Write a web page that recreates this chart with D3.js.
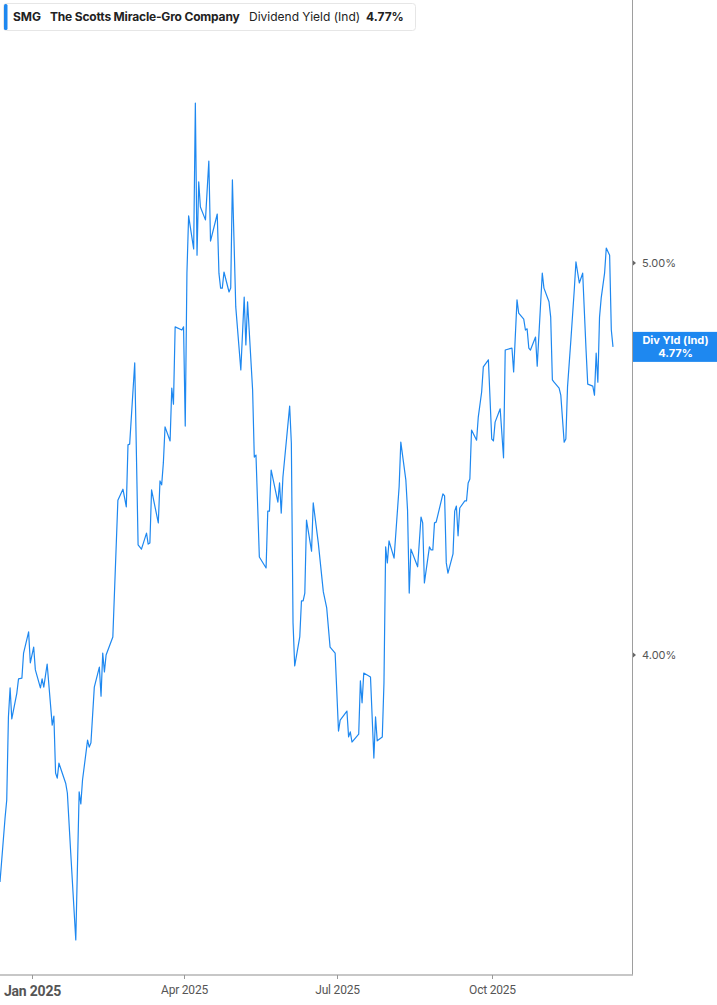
<!DOCTYPE html>
<html>
<head>
  <meta charset="utf-8">
  <title>SMG Dividend Yield</title>
  <script src="https://d3js.org/d3.v7.min.js"></script>
  <style>
    body {
      margin: 0;
      background: #fff;
      font-family: Inter, 'Noto Sans', sans-serif;
    }
    svg {
      display: block;
    }
  </style>
</head>
<body>
<svg width="717" height="1005"></svg>
<script>
  const ticker = 'SMG';
  const company = 'The Scotts Miracle-Gro Company';
  const metric = 'Dividend Yield (Ind)';
  const lastLabel = 'Div Yld (Ind)';
  const currentYield = 4.77;

  // date, yield (%)
  const yieldSeries = [
    ['2024-12-13', 3.421], ['2024-12-16', 3.584], ['2024-12-17', 3.630], ['2024-12-18', 3.842],
    ['2024-12-19', 3.916], ['2024-12-20', 3.837], ['2024-12-23', 3.903], ['2024-12-24', 3.939],
    ['2024-12-26', 3.941], ['2024-12-27', 4.005], ['2024-12-30', 4.059], ['2024-12-31', 3.980],
    ['2025-01-02', 4.020], ['2025-01-03', 3.962], ['2025-01-06', 3.916], ['2025-01-07', 3.939],
    ['2025-01-08', 3.918], ['2025-01-10', 3.977], ['2025-01-13', 3.821], ['2025-01-14', 3.844],
    ['2025-01-15', 3.699], ['2025-01-16', 3.686], ['2025-01-17', 3.724], ['2025-01-21', 3.673],
    ['2025-01-22', 3.648], ['2025-01-24', 3.495], ['2025-01-27', 3.273], ['2025-01-29', 3.651],
    ['2025-01-30', 3.620], ['2025-01-31', 3.681], ['2025-02-03', 3.783], ['2025-02-04', 3.765],
    ['2025-02-05', 3.776], ['2025-02-07', 3.918], ['2025-02-10', 3.969], ['2025-02-11', 3.895],
    ['2025-02-12', 4.005], ['2025-02-13', 3.957], ['2025-02-14', 4.000], ['2025-02-18', 4.046],
    ['2025-02-21', 4.395], ['2025-02-24', 4.423], ['2025-02-26', 4.378], ['2025-02-27', 4.536],
    ['2025-02-28', 4.538], ['2025-03-03', 4.745], ['2025-03-05', 4.281], ['2025-03-07', 4.270],
    ['2025-03-10', 4.311], ['2025-03-11', 4.283], ['2025-03-12', 4.286], ['2025-03-13', 4.421],
    ['2025-03-17', 4.337], ['2025-03-18', 4.444], ['2025-03-19', 4.434], ['2025-03-20', 4.490],
    ['2025-03-21', 4.582], ['2025-03-24', 4.546], ['2025-03-25', 4.681], ['2025-03-26', 4.640],
    ['2025-03-27', 4.837], ['2025-03-31', 4.829], ['2025-04-01', 4.837], ['2025-04-02', 4.584],
    ['2025-04-03', 4.974], ['2025-04-04', 5.120], ['2025-04-07', 5.036], ['2025-04-08', 5.408],
    ['2025-04-09', 5.020], ['2025-04-10', 5.207], ['2025-04-11', 5.143], ['2025-04-14', 5.110],
    ['2025-04-16', 5.260], ['2025-04-17', 5.056], ['2025-04-21', 5.125], ['2025-04-22', 4.974],
    ['2025-04-23', 4.936], ['2025-04-24', 4.936], ['2025-04-25', 4.977], ['2025-04-28', 4.926],
    ['2025-04-29', 4.936], ['2025-04-30', 5.212], ['2025-05-02', 4.888], ['2025-05-05', 4.727],
    ['2025-05-07', 4.913], ['2025-05-08', 4.791], ['2025-05-09', 4.901], ['2025-05-12', 4.676],
    ['2025-05-13', 4.505], ['2025-05-14', 4.510], ['2025-05-16', 4.250], ['2025-05-20', 4.222],
    ['2025-05-21', 4.367], ['2025-05-22', 4.367], ['2025-05-23', 4.472], ['2025-05-27', 4.390],
    ['2025-05-28', 4.439], ['2025-05-29', 4.362], ['2025-05-30', 4.454], ['2025-06-03', 4.635],
    ['2025-06-04', 4.541], ['2025-06-05', 4.082], ['2025-06-06', 3.972], ['2025-06-09', 4.046],
    ['2025-06-10', 4.138], ['2025-06-11', 4.138], ['2025-06-12', 4.158], ['2025-06-13', 4.344],
    ['2025-06-16', 4.265], ['2025-06-17', 4.388], ['2025-06-20', 4.286], ['2025-06-23', 4.161],
    ['2025-06-25', 4.120], ['2025-06-27', 4.020], ['2025-06-30', 4.005], ['2025-07-02', 3.806],
    ['2025-07-03', 3.834], ['2025-07-07', 3.857], ['2025-07-08', 3.791], ['2025-07-09', 3.804],
    ['2025-07-10', 3.778], ['2025-07-14', 3.798], ['2025-07-15', 3.934], ['2025-07-16', 3.878],
    ['2025-07-17', 3.954], ['2025-07-21', 3.944], ['2025-07-23', 3.737], ['2025-07-24', 3.842],
    ['2025-07-25', 3.781], ['2025-07-28', 3.791], ['2025-07-29', 3.929], ['2025-07-30', 4.276],
    ['2025-07-31', 4.235], ['2025-08-01', 4.291], ['2025-08-04', 4.247], ['2025-08-07', 4.429],
    ['2025-08-08', 4.543], ['2025-08-11', 4.446], ['2025-08-12', 4.370], ['2025-08-13', 4.158],
    ['2025-08-14', 4.270], ['2025-08-18', 4.225], ['2025-08-20', 4.352], ['2025-08-21', 4.337],
    ['2025-08-22', 4.184], ['2025-08-25', 4.276], ['2025-08-26', 4.268], ['2025-08-27', 4.268],
    ['2025-08-28', 4.337], ['2025-08-29', 4.339], ['2025-09-02', 4.411], ['2025-09-03', 4.406],
    ['2025-09-04', 4.235], ['2025-09-05', 4.209], ['2025-09-08', 4.258], ['2025-09-09', 4.367],
    ['2025-09-10', 4.380], ['2025-09-11', 4.304], ['2025-09-12', 4.375], ['2025-09-15', 4.393],
    ['2025-09-16', 4.393], ['2025-09-17', 4.439], ['2025-09-18', 4.449], ['2025-09-19', 4.574],
    ['2025-09-22', 4.548], ['2025-09-23', 4.607], ['2025-09-25', 4.671], ['2025-09-26', 4.735],
    ['2025-09-29', 4.753], ['2025-10-01', 4.551], ['2025-10-02', 4.546], ['2025-10-03', 4.594],
    ['2025-10-06', 4.628], ['2025-10-08', 4.503], ['2025-10-09', 4.778], ['2025-10-13', 4.783],
    ['2025-10-14', 4.722], ['2025-10-16', 4.906], ['2025-10-17', 4.872], ['2025-10-20', 4.857],
    ['2025-10-21', 4.829], ['2025-10-22', 4.832], ['2025-10-23', 4.783], ['2025-10-24', 4.778],
    ['2025-10-27', 4.811], ['2025-10-28', 4.737], ['2025-10-31', 4.974], ['2025-11-01', 4.936],
    ['2025-11-04', 4.901], ['2025-11-05', 4.862], ['2025-11-06', 4.702], ['2025-11-07', 4.696],
    ['2025-11-10', 4.681], ['2025-11-11', 4.663], ['2025-11-13', 4.543], ['2025-11-14', 4.551],
    ['2025-11-15', 4.684], ['2025-11-17', 4.804], ['2025-11-19', 4.931], ['2025-11-20', 5.003],
    ['2025-11-22', 4.949], ['2025-11-24', 4.974], ['2025-11-26', 4.778], ['2025-11-27', 4.691],
    ['2025-11-30', 4.686], ['2025-12-01', 4.663], ['2025-12-02', 4.770], ['2025-12-03', 4.696],
    ['2025-12-04', 4.862], ['2025-12-05', 4.911], ['2025-12-07', 4.974], ['2025-12-08', 5.038],
    ['2025-12-10', 5.020], ['2025-12-11', 4.829], ['2025-12-12', 4.786]
  ];

  const xTickDates = ['2025-01-01', '2025-04-01', '2025-07-01', '2025-10-01'];
  const xTickLabels = ['Jan 2025', 'Apr 2025', 'Jul 2025', 'Oct 2025'];
  const yTicks = [4, 5];

  const parse = d3.timeParse('%Y-%m-%d');
  const data = yieldSeries.map(([d, v]) => ({ date: parse(d), value: v }));
  const last = data[data.length - 1];
  const pct = v => d3.format('.2f')(v) + '%';

  const width = 717;
  const plotRight = 632;
  const plotBottom = 975;
  const blue = '#1e88f0';

  const svg = d3.select('svg');

  const x = d3.scaleTime()
    .domain([data[0].date, last.date])
    .range([0, 613]);

  const y = d3.scaleLinear()
    .domain([4, 5])
    .range([655, 263]);

  svg.append('clipPath').attr('id', 'plot-clip')
    .append('rect')
    .attr('x', 0).attr('y', 0)
    .attr('width', plotRight).attr('height', plotBottom);

  const line = d3.line()
    .x(d => x(d.date))
    .y(d => y(d.value));

  svg.append('path')
    .datum(data)
    .attr('clip-path', 'url(#plot-clip)')
    .attr('fill', 'none')
    .attr('stroke', blue)
    .attr('stroke-width', 1.2)
    .attr('stroke-linejoin', 'round')
    .attr('d', line);

  // right axis
  svg.append('line')
    .attr('x1', plotRight + 0.5).attr('x2', plotRight + 0.5)
    .attr('y1', 0).attr('y2', plotBottom)
    .attr('stroke', '#9e9e9e')
    .attr('stroke-width', 1);

  const yTick = svg.append('g')
    .selectAll('g')
    .data(yTicks)
    .enter().append('g')
    .attr('transform', d => `translate(${plotRight},${y(d)})`);

  yTick.append('path')
    .attr('d', 'M1,-2.5L4,0L1,2.5Z')
    .attr('fill', '#666');

  yTick.append('text')
    .attr('x', 10)
    .attr('dy', '0.35em')
    .attr('font-size', 11)
    .attr('fill', '#555')
    .text(pct);

  // bottom axis
  svg.append('line')
    .attr('x1', 0).attr('x2', plotRight + 1)
    .attr('y1', plotBottom).attr('y2', plotBottom)
    .attr('stroke', '#b5b5b5')
    .attr('stroke-width', 1.5);

  const xTick = svg.append('g')
    .selectAll('g')
    .data(xTickDates)
    .enter().append('g')
    .attr('transform', d => `translate(${Math.round(x(parse(d))) + 0.5},${plotBottom})`);

  xTick.append('line')
    .attr('y1', 0).attr('y2', 4)
    .attr('stroke', '#999');

  xTick.append('text')
    .attr('y', (d, i) => i === 0 ? 21 : 19)
    .attr('text-anchor', 'middle')
    .attr('fill', '#555')
    .attr('font-family', 'Roboto, sans-serif')
    .attr('font-size', (d, i) => i === 0 ? 14 : 12)
    .attr('font-weight', (d, i) => i === 0 ? 700 : 400)
    .attr('letter-spacing', -0.2)
    .text((d, i) => xTickLabels[i]);

  // last value marker
  const lastY = y(last.value);
  const marker = svg.append('g')
    .attr('transform', `translate(${plotRight + 1},${lastY - 15})`);

  marker.append('rect')
    .attr('width', width - plotRight - 1)
    .attr('height', 30)
    .attr('fill', blue);

  marker.append('text')
    .attr('x', (width - plotRight) / 2)
    .attr('y', 12.5)
    .attr('text-anchor', 'middle')
    .attr('fill', '#fff')
    .attr('font-size', 11)
    .attr('font-weight', 700)
    .text(lastLabel);

  marker.append('text')
    .attr('x', (width - plotRight) / 2)
    .attr('y', 25)
    .attr('text-anchor', 'middle')
    .attr('fill', '#fff')
    .attr('font-size', 11)
    .attr('font-weight', 700)
    .text(pct(currentYield));

  // legend
  const legend = svg.append('g');

  legend.append('rect')
    .attr('x', 3.5).attr('y', 3.5)
    .attr('width', 412).attr('height', 27)
    .attr('rx', 3)
    .attr('fill', '#fff')
    .attr('stroke', '#e6e6e6');

  legend.append('rect')
    .attr('x', 4).attr('y', 4)
    .attr('width', 3.5).attr('height', 26)
    .attr('rx', 1.5)
    .attr('fill', blue);

  const legendText = legend.append('text')
    .attr('y', 21)
    .attr('font-size', 12)
    .attr('fill', '#222');

  legendText.append('tspan').attr('x', 13).attr('font-weight', 700).text(ticker);
  legendText.append('tspan').attr('x', 50).attr('font-weight', 700)
    .attr('letter-spacing', -0.18).text(company);
  legendText.append('tspan').attr('x', 249).attr('font-weight', 400)
    .attr('letter-spacing', 0).text(metric);
  legendText.append('tspan').attr('x', 366).attr('font-weight', 700).text(pct(currentYield));
</script>
</body>
</html>
